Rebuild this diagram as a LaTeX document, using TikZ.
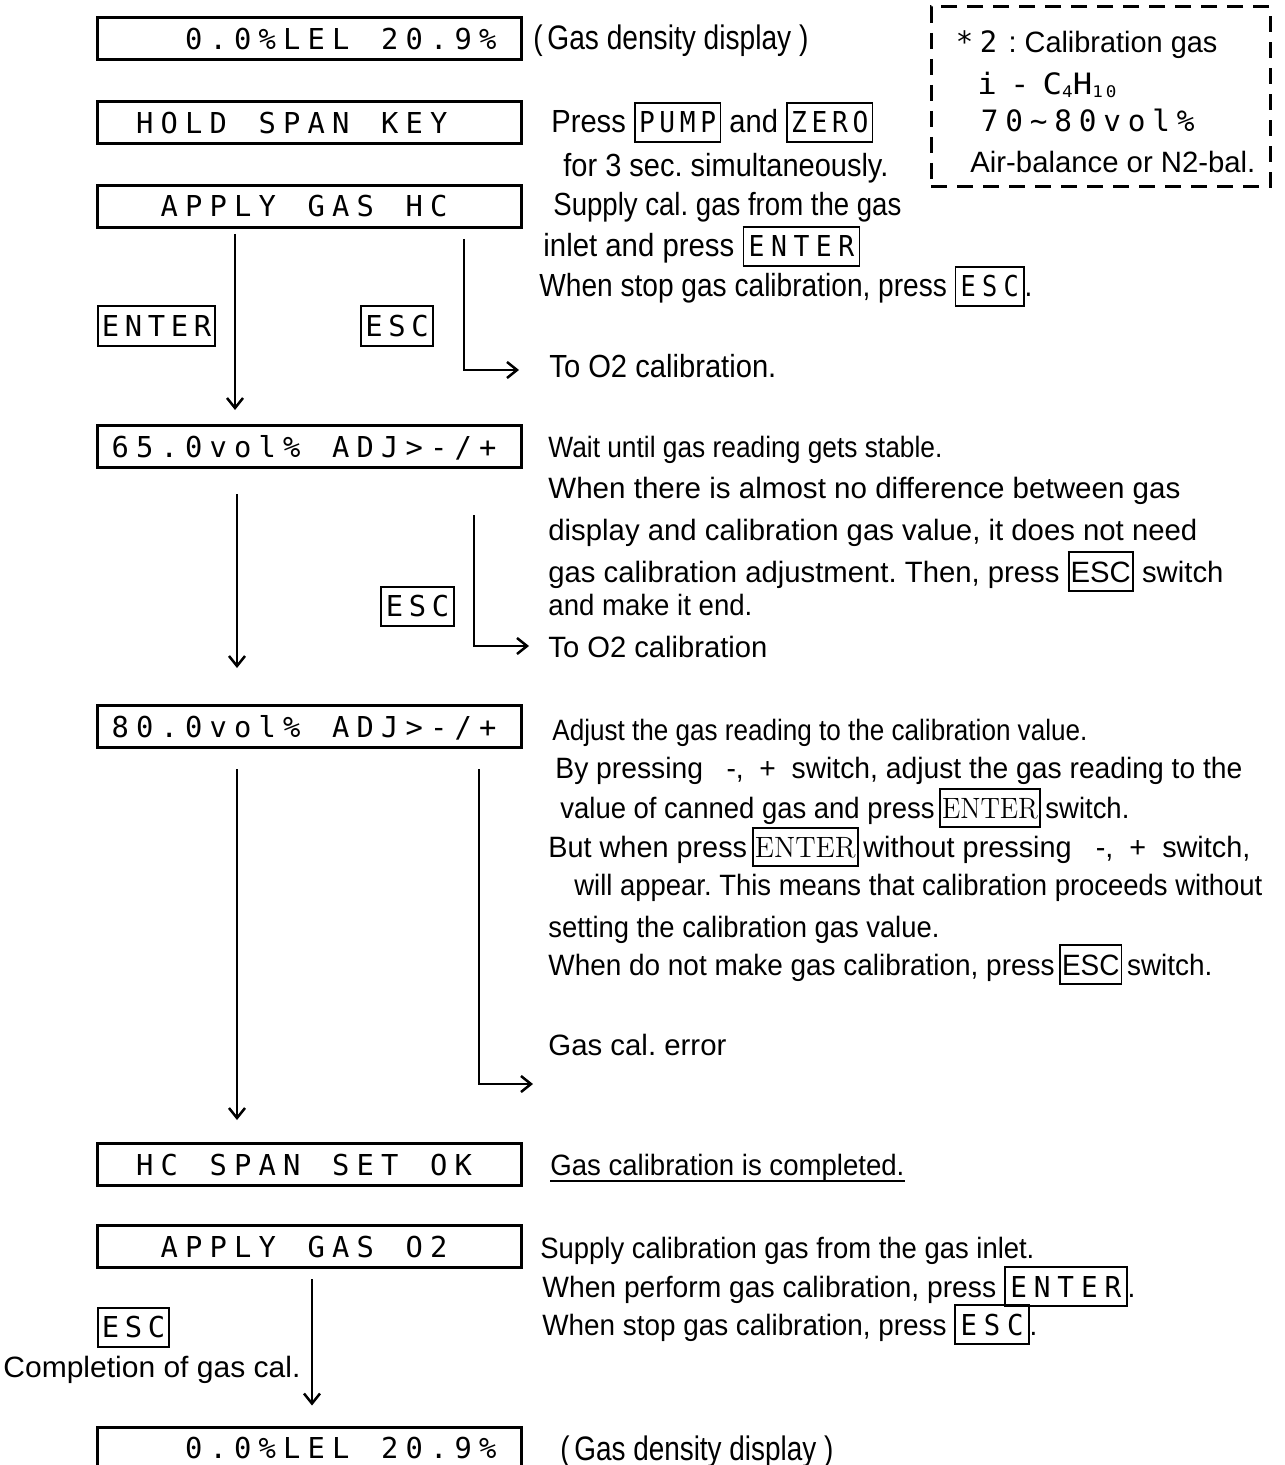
\documentclass[tikz,border=0pt]{standalone}
\usepackage{fontspec}
\usepackage{graphicx}
\setsansfont{Liberation Sans}
\newfontfamily\lcdfont{DejaVu Sans Mono}
\usetikzlibrary{arrows.meta,calc}
\frenchspacing
\newlength\cellw
\setlength\cellw{12.25pt}
\def\lcdend{LCDEND}
\def\lcd#1{\lcdloop#1\lcdend}
\def\lcdloop#1{\ifx#1\lcdend\else\makebox[\cellw][c]{#1}\expandafter\lcdloop\fi}
\newcommand\fitw[2]{\resizebox{\dimexpr #1pt/2\relax}{\height}{#2}}
\newcommand\lcdrow[1]{\makebox[212pt][l]{\hspace*{5.5pt}\rule[-5pt]{0pt}{20.5pt}\lcd{#1}}}
\newcommand\kc[2]{{\setlength\cellw{#1}\rule[-4.5pt]{0pt}{19.5pt}\lcd{#2}}}
\newcommand\keym[2][12.25pt]{{\setlength\fboxsep{0.6pt}\setlength\fboxrule{0.9pt}\fbox{\rule[-3.5pt]{0pt}{17.5pt}\setlength\cellw{#1}\lcdfont\fontsize{14.4}{17}\selectfont\lcd{#2}}}}
\newcommand\keya[1]{{\setlength\fboxsep{0.6pt}\setlength\fboxrule{0.9pt}\fbox{\rule[-3.5pt]{0pt}{17.5pt}#1}}}
\newcommand\keyr[1]{{\setlength\fboxsep{0.6pt}\setlength\fboxrule{0.9pt}\fbox{\rule[-3.5pt]{0pt}{17pt}\rmfamily #1}}}
\begin{document}
\begin{tikzpicture}[x=0.5pt,y=-0.5pt,
  lcdbox/.style={draw, line width=1.5pt, inner sep=0pt, minimum width=212pt, minimum height=21pt, font=\lcdfont\fontsize{14.4}{17}\selectfont},
  keybox/.style={draw, line width=1pt, inner sep=0pt, minimum height=19pt, font=\lcdfont\fontsize{14.4}{17}\selectfont},
  tx/.style={anchor=base west, inner sep=0pt, font=\sffamily\fontsize{14.7}{17}\selectfont},
  txm/.style={tx, font=\sffamily\fontsize{16}{18}\selectfont},
  txl/.style={tx, font=\sffamily\fontsize{17}{19}\selectfont},
  arr/.style={line width=1.25pt, -{Straight Barb[length=5pt,width=8pt]}}]
\useasboundingbox (0,0) rectangle (1284,1465);
\fill[white] (0,0) rectangle (1284,1465);
\clip (0,0) rectangle (1284,1465);

% display boxes
\node[lcdbox] (b1) at (309,39) {\lcdrow{~~~0.0\%LEL~20.9\%}};
\node[lcdbox] (b2) at (309,123) {\lcdrow{~HOLD~SPAN~KEY}};
\node[lcdbox] (b3) at (309,206.5) {\lcdrow{~~APPLY~GAS~HC}};
\node[lcdbox] (b4) at (309,446.5) {\lcdrow{65.0vol\%~ADJ>-/+}};
\node[lcdbox] (b5) at (309,726.5) {\lcdrow{80.0vol\%~ADJ>-/+}};
\node[lcdbox] (b6) at (309,1164.5) {\lcdrow{~HC~SPAN~SET~OK}};
\node[lcdbox] (b7) at (309,1246.5) {\lcdrow{~~APPLY~GAS~O2}};
\node[lcdbox] (b8) at (309,1448) {\lcdrow{~~~0.0\%LEL~20.9\%}};

% key boxes on the left
\node[keybox, minimum width=58.5pt] (kenter) at (156.5,326) {\kc{11.5pt}{ENTER}};
\node[keybox, minimum width=36pt] (kesc1) at (397,326) {\kc{11.5pt}{ESC}};
\node[keybox, minimum width=36.5pt] (kesc2) at (417.5,606) {\kc{11.5pt}{ESC}};
\node[keybox, minimum width=35.5pt] (kesc3) at (133.5,1327) {\kc{11.5pt}{ESC}};

% dashed note
\node[draw, dash pattern=on 8pt off 5pt, line width=1.5pt, minimum width=169.5pt, minimum height=90pt, inner sep=0pt] (note) at (1100.5,97) {};
\node[tx] (n1) at (952,53) {\fitw{265}{{\lcdfont\lcd{*2}}~: Calibration gas}};
\node[tx] (n2) at (977,95) {\fitw{139}{\lcdfont i\hspace{6pt}-\hspace{6pt}C\raisebox{-1.5pt}{\fontsize{8}{8}\selectfont 4}H\raisebox{-1.5pt}{\fontsize{8}{8}\selectfont 1\,0}}};
\node[tx] (n3) at (977,132) {{\lcdfont\lcd{70\textasciitilde 80vol\%}}};
\node[tx] (n4) at (970,173) {\fitw{285}{Air-balance or N2-bal.}};

% right-hand texts
\node[txl] (t1) at (533,50) {\fitw{275}{(\,Gas density display\ )}};
\node[txm] (t2) at (551,133) {\fitw{322}{Press \keym[11.25pt]{PUMP} and \keym[11.25pt]{ZERO}}};
\node[txm] (t3) at (563,177) {\fitw{325}{for 3 sec. simultaneously.}};
\node[txm] (t4) at (553,216) {\fitw{348}{Supply cal. gas from the gas}};
\node[txm] (t5) at (543,257) {\fitw{317}{inlet and press \keym{ENTER}}};
\node[txm] (t6) at (539,297) {\fitw{493}{When stop gas calibration, press \keym{ESC}.}};
\node[txm] (t7) at (549,377) {\fitw{227}{To O2 calibration.}};
\node[tx] (t8) at (548,457) {\fitw{394}{Wait until gas reading gets stable.}};
\node[tx] (t9) at (548,498) {\fitw{632}{When there is almost no difference between gas}};
\node[tx] (t10) at (548,540) {\fitw{649}{display and calibration gas value, it does not need}};
\node[tx] (t11) at (548,582) {\fitw{675}{gas calibration adjustment. Then, press \keya{ESC} switch}};
\node[tx] (t12) at (548,615) {\fitw{204}{and make it end.}};
\node[tx] (t13) at (548,657) {\fitw{219}{To O2 calibration}};
\node[tx] (t14) at (552,740) {\fitw{535}{Adjust the gas reading to the calibration value.}};
\node[tx] (t15) at (555,778) {\fitw{687}{By pressing \ \ -,\ \ +\ \ switch, adjust the gas reading to the}};
\node[tx] (t16) at (560,818) {\fitw{569}{value of canned gas and press\,\keyr{ENTER}\,switch.}};
\node[tx] (t17) at (548,857) {\fitw{702}{But when press\,\keyr{ENTER}\,without pressing \ \ -,\ \ +\ \ switch,}};
\node[tx] (t18) at (574,895) {\fitw{688}{will appear. This means that calibration proceeds without}};
\node[tx] (t19) at (548,937) {\fitw{391}{setting the calibration gas value.}};
\node[tx] (t20) at (548,975) {\fitw{664}{When do not make gas calibration, press\,\keya{ESC}\,switch.}};
\node[tx] (t21) at (548,1055) {\fitw{178}{Gas cal. error}};
\node[tx] (t22) at (550,1175) {\fitw{354}{Gas calibration is completed.}};
\draw[line width=1.2pt] ($(t22.base west)+(0,6)$) -- ($(t22.base east)+(0,6)$);
\node[tx] (t23) at (540,1258) {\fitw{494}{Supply calibration gas from the gas inlet.}};
\node[tx] (t24) at (542,1297) {\fitw{593}{When perform gas calibration, press \keym{ENTER}.}};
\node[tx] (t25) at (542,1335) {\fitw{495}{When stop gas calibration, press \keym{ESC}.}};
\node[txl] (t26) at (560,1460) {\fitw{273}{(\,Gas density display\ )}};
\node[tx] (t27) at (3,1377) {\fitw{297}{Completion of gas cal.}};

% connectors
\coordinate (cA) at (235,0);
\coordinate (cB) at (464,0);
\coordinate (cC) at (237,0);
\coordinate (cD) at (474,0);
\coordinate (cE) at (479,0);
\coordinate (cF) at (312,0);
\coordinate (e1) at (519,370);
\coordinate (e2) at (529,646);
\coordinate (e3) at (533,1084);
\draw[arr, shorten <=2.5pt, shorten >=7pt] (b3.south -| cA) -- (b4.north -| cA);
\draw[arr, shorten <=5pt] (b3.south -| cB) |- (e1);
\draw[arr, shorten <=12.5pt, shorten >=18pt] (b4.south -| cC) -- (b5.north -| cC);
\draw[arr, shorten <=23pt] (b4.south -| cD) |- (e2);
\draw[arr, shorten <=10pt, shorten >=11pt] (b5.south -| cC) -- (b6.north -| cC);
\draw[arr, shorten <=10pt] (b5.south -| cE) |- (e3);
\draw[arr, shorten <=5pt, shorten >=10pt] (b7.south -| cF) -- (b8.north -| cF);
\end{tikzpicture}
\end{document}
